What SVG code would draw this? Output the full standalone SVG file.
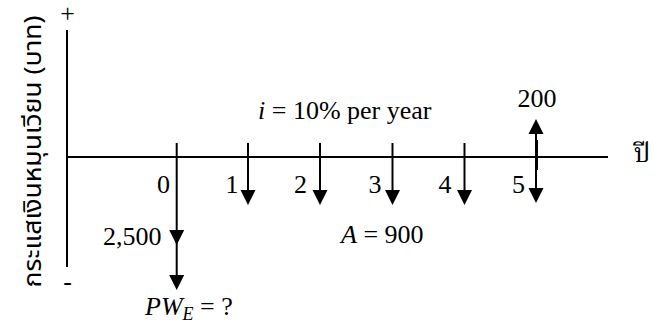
<svg xmlns="http://www.w3.org/2000/svg" width="654" height="327" viewBox="0 0 654 327">
<style>
.ax{stroke:#000;stroke-width:2;fill:none}
.ln{stroke:#000;stroke-width:2;fill:none}
.hd{fill:#000;stroke:none}
.t{font-family:'Liberation Serif','Times New Roman',Tinos,'DejaVu Serif',serif;font-size:26px;fill:#000}
.th{font-family:'Noto Sans Thai','Noto Sans','DejaVu Sans',sans-serif;font-size:24px;fill:#000}
.ts{font-family:'Noto Serif Thai','Liberation Serif',serif;font-size:26px;fill:#000}
</style>
<defs>
<path id="dn" d="M-7.5,-15 L7.5,-15 L0,0 Z"/>
<path id="up" d="M-7.5,15 L7.5,15 L0,0 Z"/>
</defs>
<g id="axes">
<line class="ax" x1="67" y1="30" x2="67" y2="267"/>
<line class="ax" x1="67" y1="157" x2="608" y2="157"/>
<text class="t" x="67.5" y="22" text-anchor="middle">+</text>
<text class="t" x="67.5" y="290" text-anchor="middle">-</text>
<text class="th" transform="translate(41,151.5) rotate(-90)" text-anchor="middle" textLength="272" lengthAdjust="spacingAndGlyphs">กระแสเงินหมุนเวียน (บาท)</text>
<text class="ts" x="642" y="162" text-anchor="middle">ปี</text>
</g>
<g id="connectors">
<line class="ln" x1="176.7" y1="143" x2="176.7" y2="278"/>
<use href="#dn" x="176.7" y="245" class="hd"/>
<use href="#dn" x="176.7" y="290" class="hd"/>
<line class="ln" x1="248" y1="143" x2="248" y2="193"/>
<use href="#dn" x="248" y="205" class="hd"/>
<line class="ln" x1="320" y1="143" x2="320" y2="193"/>
<use href="#dn" x="320" y="205" class="hd"/>
<line class="ln" x1="392.5" y1="143" x2="392.5" y2="193"/>
<use href="#dn" x="392.5" y="205" class="hd"/>
<line class="ln" x1="464.5" y1="143" x2="464.5" y2="193"/>
<use href="#dn" x="464.5" y="205" class="hd"/>
<line class="ln" x1="536" y1="131" x2="536" y2="192"/>
<line class="ln" x1="537" y1="140" x2="537" y2="170"/>
<use href="#up" x="536" y="119" class="hd"/>
<use href="#dn" x="536" y="203" class="hd"/>
</g>
<g id="labels">
<text class="t" x="163.5" y="193" text-anchor="middle">0</text>
<text class="t" x="232" y="193" text-anchor="middle">1</text>
<text class="t" x="300.5" y="193" text-anchor="middle">2</text>
<text class="t" x="375" y="193" text-anchor="middle">3</text>
<text class="t" x="445" y="193" text-anchor="middle">4</text>
<text class="t" x="518.5" y="193" text-anchor="middle">5</text>
<text class="t" x="161.5" y="245" text-anchor="end">2,500</text>
<text class="t" x="537" y="107" text-anchor="middle">200</text>
<text class="t" x="258" y="119"><tspan font-style="italic">i</tspan> = 10% per year</text>
<text class="t" x="341" y="243"><tspan font-style="italic">A</tspan> = 900</text>
<text class="t" x="145" y="315"><tspan font-style="italic">PW</tspan><tspan font-style="italic" font-size="18px" dy="5">E</tspan><tspan dy="-5"> = ?</tspan></text>
</g>
</svg>
